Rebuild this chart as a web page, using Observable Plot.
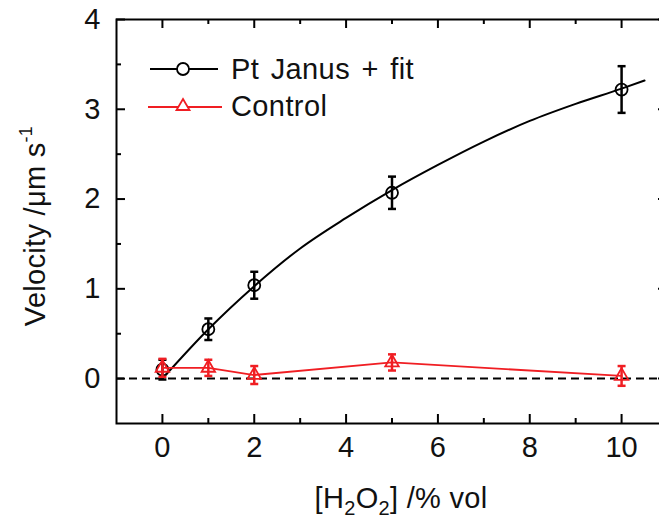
<!DOCTYPE html>
<html>
<head>
<meta charset="utf-8">
<script src="https://cdn.jsdelivr.net/npm/d3@7"></script>
<script src="https://cdn.jsdelivr.net/npm/@observablehq/plot@0.6"></script>
<style>
  html, body { margin: 0; padding: 0; background: #fff; overflow: hidden; }
  #wrap { position: relative; width: 659px; height: 522px; overflow: hidden; font-family: "Liberation Sans", Arial, sans-serif; color: #111; }
  #chart { position: absolute; left: 0; top: 0; width: 668px; }
  #chart svg { max-width: none !important; }
  .lab { position: absolute; font-size: 29px; white-space: nowrap; line-height: 1; letter-spacing: 0.3px; }
  .lab sub { font-size: 20px; vertical-align: -7px; line-height: 0; }
  .lab sup { font-size: 18px; vertical-align: 13px; line-height: 0; }
  #ylab { left: 35px; top: 226px; transform: translate(-50%, -50%) rotate(-90deg); }
  #xlab { left: 401px; top: 498px; transform: translate(-50%, -50%); }
  #legend { position: absolute; left: 146px; top: 51px; }
  .leg-row { display: flex; align-items: center; height: 37px; }
  .leg-row svg { width: 80px; height: 37px; }
  .leg-row span { font-size: 29px; margin-left: 5px; line-height: 1; letter-spacing: 0.4px; word-spacing: 3px; }
</style>
</head>
<body>
<div id="wrap">
  <div id="chart"></div>
  <div id="ylab" class="lab">Velocity /μm s<sup>-1</sup></div>
  <div id="xlab" class="lab">[H<sub>2</sub>O<sub>2</sub>] /% vol</div>
  <div id="legend">
    <div class="leg-row">
      <svg viewBox="0 0 80 37"><line x1="4" x2="72" y1="18" y2="18" stroke="#000" stroke-width="2"/><circle cx="37" cy="18" r="6" fill="#fff" stroke="#000" stroke-width="1.8"/></svg>
      <span>Pt Janus + fit</span>
    </div>
    <div class="leg-row">
      <svg viewBox="0 0 80 37"><line x1="2" x2="76" y1="19" y2="19" stroke="#f01e23" stroke-width="2"/><path d="M37,11 L43.5,22 L30.5,22 Z" fill="#fff" stroke="#f01e23" stroke-width="1.8"/></svg>
      <span>Control</span>
    </div>
  </div>
</div>
<script>
// ---- data ----
const concentration = [0, 1, 2, 5, 10];
const janusVelocity = [0.10, 0.55, 1.04, 2.07, 3.22];
const janusError    = [0.11, 0.12, 0.15, 0.18, 0.26];
const controlVelocity = [0.12, 0.12, 0.04, 0.18, 0.03];
const controlError    = [0.10, 0.09, 0.10, 0.09, 0.11];
const fitConcentration = [0, 1, 2, 3, 4, 5, 6, 7, 8, 9, 10, 10.5];
const fitVelocity      = [0, 0.55, 1.03, 1.45, 1.79, 2.10, 2.38, 2.64, 2.87, 3.06, 3.23, 3.32];
const xMajorTicks = [0, 2, 4, 6, 8, 10];
const xMinorTicks = [1, 3, 5, 7, 9];
const yMajorTicks = [0, 1, 2, 3, 4];
const yMinorTicks = [0.5, 1.5, 2.5, 3.5];

const janus = concentration.map((c, i) => ({c, v: janusVelocity[i], e: janusError[i]}));
const control = concentration.map((c, i) => ({c, v: controlVelocity[i], e: controlError[i]}));
const fit = fitConcentration.map((c, i) => ({c, v: fitVelocity[i]}));

const RED = "#f01e23";
const W = 668, H = 522, ML = 116, MR = 1, MT = 19, MB = 99;
const PW = W - ML - MR, PH = H - MT - MB;
const capSymbol = {draw(ctx, size) { const r = 4; ctx.moveTo(-r, 0); ctx.lineTo(r, 0); }};

const plot = Plot.plot({
  width: W, height: H,
  marginLeft: ML, marginRight: MR, marginTop: MT, marginBottom: MB,
  style: {fontFamily: "Liberation Sans, Arial, sans-serif", fontSize: "29px", color: "#111", background: "transparent", overflow: "visible", maxWidth: "none"},
  x: {domain: [-1, 11]},
  y: {domain: [-0.5, 4]},
  marks: [
    Plot.ruleY([0], {stroke: "#000", strokeWidth: 2, strokeDasharray: "8,5"}),
    // ticks (inward)
    Plot.ruleX(xMajorTicks, {x: d => d, insetTop: PH - 9, stroke: "#000", strokeWidth: 2}),
    Plot.ruleX(xMajorTicks, {x: d => d, insetBottom: PH - 9, stroke: "#000", strokeWidth: 2}),
    Plot.ruleX(xMinorTicks, {x: d => d, insetTop: PH - 5, stroke: "#000", strokeWidth: 2}),
    Plot.ruleX(xMinorTicks, {x: d => d, insetBottom: PH - 5, stroke: "#000", strokeWidth: 2}),
    Plot.ruleY(yMajorTicks, {y: d => d, insetRight: PW - 9, stroke: "#000", strokeWidth: 2}),
    Plot.ruleY(yMajorTicks, {y: d => d, insetLeft: PW - 9, stroke: "#000", strokeWidth: 2}),
    Plot.ruleY(yMinorTicks, {y: d => d, insetRight: PW - 5, stroke: "#000", strokeWidth: 2}),
    Plot.ruleY(yMinorTicks, {y: d => d, insetLeft: PW - 5, stroke: "#000", strokeWidth: 2}),
    Plot.axisX({ticks: xMajorTicks, tickFormat: d3.format("d"), tickSize: 0, tickPadding: 13, anchor: "bottom", label: null}),
    Plot.axisY({ticks: yMajorTicks, tickFormat: d3.format("d"), tickSize: 0, tickPadding: 16, anchor: "left", label: null}),
    // Pt Janus
    Plot.line(fit, {x: "c", y: "v", stroke: "#000", strokeWidth: 2, curve: "monotone-x"}),
    Plot.ruleX(janus, {x: "c", y1: d => d.v - d.e, y2: d => d.v + d.e, stroke: "#000", strokeWidth: 2.5}),
    Plot.dot(janus, {x: "c", y: d => d.v + d.e, symbol: capSymbol, stroke: "#000", strokeWidth: 2.5, r: 4}),
    Plot.dot(janus, {x: "c", y: d => d.v - d.e, symbol: capSymbol, stroke: "#000", strokeWidth: 2.5, r: 4}),
    Plot.dot(janus, {x: "c", y: "v", r: 6, stroke: "#000", fill: "none", strokeWidth: 1.8}),
    // Control
    Plot.line(control, {x: "c", y: "v", stroke: RED, strokeWidth: 1.8}),
    Plot.ruleX(control, {x: "c", y1: d => d.v - d.e, y2: d => d.v + d.e, stroke: RED, strokeWidth: 2.5}),
    Plot.dot(control, {x: "c", y: d => d.v + d.e, symbol: capSymbol, stroke: RED, strokeWidth: 2.5, r: 4}),
    Plot.dot(control, {x: "c", y: d => d.v - d.e, symbol: capSymbol, stroke: RED, strokeWidth: 2.5, r: 4}),
    Plot.dot(control, {x: "c", y: "v", symbol: "triangle", r: 5, stroke: RED, fill: "none", strokeWidth: 1.8}),
    Plot.frame({stroke: "#000", strokeWidth: 2})
  ]
});
document.getElementById("chart").appendChild(plot);
</script>
</body>
</html>
